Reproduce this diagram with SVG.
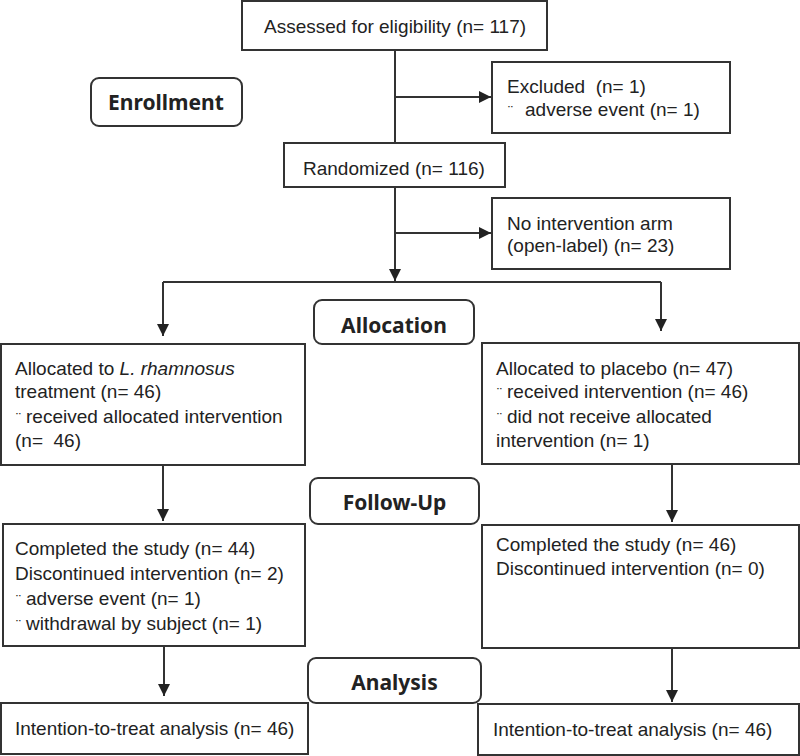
<svg xmlns="http://www.w3.org/2000/svg" width="800" height="756" viewBox="0 0 800 756">
<defs>
<style>
.box{fill:#fff;stroke:#333;stroke-width:2}
.stage{fill:#fff;stroke:#333;stroke-width:2}
.t{font-family:"Liberation Sans",Arial,sans-serif;font-size:19px;fill:#222}
.b{font-family:"Noto Sans","Open Sans",sans-serif;font-weight:bold;font-size:21px;fill:#222;text-anchor:middle}
.bul{font-size:15px}
.ln{fill:none;stroke:#333;stroke-width:2}
</style>
<marker id="ah" viewBox="0 0 10 10" refX="10" refY="5" markerWidth="6" markerHeight="6" orient="auto" markerUnits="strokeWidth">
<path d="M0,0 L10,5 L0,10 z" fill="#222"/>
</marker>
</defs>
<rect width="800" height="756" fill="#fff"/>

<g id="connectors">
<path class="ln" d="M395,50 V143"/>
<path class="ln" d="M395,97 H491" marker-end="url(#ah)"/>
<path class="ln" d="M395,187 V281" marker-end="url(#ah)"/>
<path class="ln" d="M395,233 H491" marker-end="url(#ah)"/>
<path class="ln" d="M163,282 H661"/>
<path class="ln" d="M163,282 V336" marker-end="url(#ah)"/>
<path class="ln" d="M661,282 V331" marker-end="url(#ah)"/>
<path class="ln" d="M163,465 V521" marker-end="url(#ah)"/>
<path class="ln" d="M672,464 V522" marker-end="url(#ah)"/>
<path class="ln" d="M164,646 V696" marker-end="url(#ah)"/>
<path class="ln" d="M672,648 V702" marker-end="url(#ah)"/>
</g>

<g id="assessed">
<rect class="box" x="242" y="1" width="305" height="49"/>
<text class="t" x="395" y="33" text-anchor="middle">Assessed for eligibility (n= 117)</text>
</g>

<g id="enrollment">
<rect class="stage" x="91" y="78" width="151" height="48" rx="8"/>
<text class="b" x="166" y="110">Enrollment</text>
</g>

<g id="excluded">
<rect class="box" x="492" y="62" width="238" height="71"/>
<text class="t" x="507" y="93" xml:space="preserve">Excluded  (n= 1)</text>
<text class="t" x="508" y="116"><tspan class="bul">¨</tspan><tspan x="525">adverse event (n= 1)</tspan></text>
</g>

<g id="randomized">
<rect class="box" x="284" y="143" width="221" height="44"/>
<text class="t" x="303" y="175">Randomized (n= 116)</text>
</g>

<g id="no-intervention">
<rect class="box" x="492" y="198" width="238" height="71"/>
<text class="t" x="507" y="230">No intervention arm</text>
<text class="t" x="507" y="252">(open-label) (n= 23)</text>
</g>

<g id="allocation">
<rect class="stage" x="314" y="300" width="160" height="44" rx="8"/>
<text class="b" x="394" y="333">Allocation</text>
</g>

<g id="alloc-lr">
<rect class="box" x="1" y="344" width="304" height="121"/>
<text class="t" x="15" y="375">Allocated to <tspan font-style="italic">L. rhamnosus</tspan></text>
<text class="t" x="15" y="398">treatment (n= 46)</text>
<text class="t" x="16" y="423"><tspan class="bul">¨</tspan><tspan x="26">received allocated intervention</tspan></text>
<text class="t" x="15" y="447" xml:space="preserve">(n=  46)</text>
</g>

<g id="alloc-placebo">
<rect class="box" x="482" y="343" width="317" height="121"/>
<text class="t" x="496" y="375">Allocated to placebo (n= 47)</text>
<text class="t" x="497" y="398"><tspan class="bul">¨</tspan><tspan x="507">received intervention (n= 46)</tspan></text>
<text class="t" x="497" y="423"><tspan class="bul">¨</tspan><tspan x="507">did not receive allocated</tspan></text>
<text class="t" x="496" y="447">intervention (n= 1)</text>
</g>

<g id="follow-up">
<rect class="stage" x="310" y="478" width="169" height="46" rx="8"/>
<text class="b" x="394.5" y="510">Follow-Up</text>
</g>

<g id="followup-lr">
<rect class="box" x="3" y="524" width="302" height="122"/>
<text class="t" x="15" y="555">Completed the study (n= 44)</text>
<text class="t" x="15" y="580">Discontinued intervention (n= 2)</text>
<text class="t" x="16" y="605"><tspan class="bul">¨</tspan><tspan x="26">adverse event (n= 1)</tspan></text>
<text class="t" x="16" y="630"><tspan class="bul">¨</tspan><tspan x="26">withdrawal by subject (n= 1)</tspan></text>
</g>

<g id="followup-placebo">
<rect class="box" x="482" y="525" width="317" height="123"/>
<text class="t" x="496" y="551">Completed the study (n= 46)</text>
<text class="t" x="496" y="575">Discontinued intervention (n= 0)</text>
</g>

<g id="analysis">
<rect class="stage" x="308" y="658" width="173" height="45" rx="8"/>
<text class="b" x="394.5" y="690">Analysis</text>
</g>

<g id="itt-lr">
<rect class="box" x="1" y="703" width="307" height="51"/>
<text class="t" x="15" y="735">Intention-to-treat analysis (n= 46)</text>
</g>

<g id="itt-placebo">
<rect class="box" x="478" y="704" width="321" height="51"/>
<text class="t" x="493" y="736">Intention-to-treat analysis (n= 46)</text>
</g>
</svg>
